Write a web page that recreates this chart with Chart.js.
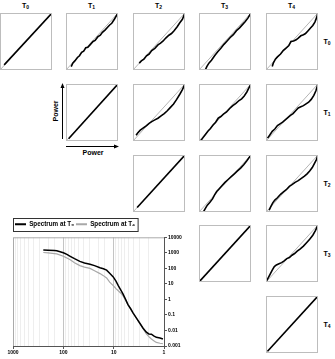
<!DOCTYPE html>
<html>
<head>
<meta charset="utf-8">
<script src="https://cdn.jsdelivr.net/npm/chart.js"></script>
<style>
  body { margin: 0; background: #fff; }
  #page { position: relative; width: 335px; height: 359px; overflow: hidden; font-family: "Liberation Sans", Arial, sans-serif; }
  .pnl { position: absolute; }
  .lbl { position: absolute; font-weight: bold; font-size: 7px; color: #000; transform: translate(-50%, -50%); white-space: nowrap; }
  .lbl sub { font-size: 5px; vertical-align: -1px; }
</style>
</head>
<body>
<div id="page">
  <svg width="335" height="359" style="position:absolute;left:0;top:0">
    <line x1="62.5" y1="139" x2="62.5" y2="86" stroke="#000" stroke-width="1"/>
    <polygon points="62.5,83 60.5,88 64.5,88" fill="#000"/>
    <line x1="66" y1="146.5" x2="116" y2="146.5" stroke="#000" stroke-width="1"/>
    <polygon points="119,146.5 114,144.5 114,148.5" fill="#000"/>
  </svg>
  <div class="lbl" style="left:55px;top:111px;transform:translate(-50%,-50%) rotate(-90deg)">Power</div>
  <div class="lbl" style="left:93px;top:152px">Power</div>
  <canvas id="spec" width="190" height="146" style="position:absolute;left:0;top:213px"></canvas>
</div>
<script>
// grid labels
const times = ['0', '1', '2', '3', '4'];
const colLeft = [0, 66, 133, 199, 266];
const rowTop = [13, 84, 155, 225, 296];

// Q-Q curves, [x, y] in fraction of panel
const t0t0 = [[0.08, 0.09], [1, 1]];
const t0t1 = [[0.10, 0.06], [0.13, 0.12], [0.17, 0.16], [0.22, 0.22], [0.26, 0.25], [0.30, 0.31], [0.34, 0.33], [0.38, 0.39], [0.42, 0.40], [0.47, 0.45], [0.52, 0.50], [0.56, 0.52], [0.61, 0.58], [0.66, 0.61], [0.70, 0.66], [0.75, 0.70], [0.80, 0.75], [0.84, 0.79], [0.88, 0.82], [0.93, 0.89], [1, 1]];
const t0t2 = [[0.12, 0.12], [0.16, 0.16], [0.21, 0.19], [0.26, 0.25], [0.31, 0.28], [0.36, 0.34], [0.42, 0.38], [0.48, 0.44], [0.53, 0.47], [0.58, 0.51], [0.63, 0.56], [0.69, 0.61], [0.74, 0.64], [0.79, 0.69], [0.85, 0.76], [0.90, 0.83], [0.95, 0.89], [1, 1]];
const t0t3 = [[0.12, 0.0], [0.15, 0.06], [0.19, 0.12], [0.24, 0.17], [0.30, 0.25], [0.36, 0.32], [0.42, 0.38], [0.48, 0.45], [0.54, 0.51], [0.60, 0.57], [0.66, 0.62], [0.72, 0.69], [0.78, 0.74], [0.84, 0.80], [0.89, 0.85], [0.94, 0.91], [1, 1]];
const t0t4 = [[0.12, 0.06], [0.14, 0.12], [0.18, 0.19], [0.22, 0.23], [0.28, 0.28], [0.33, 0.34], [0.38, 0.38], [0.44, 0.43], [0.48, 0.50], [0.53, 0.51], [0.58, 0.53], [0.62, 0.56], [0.67, 0.60], [0.72, 0.62], [0.76, 0.64], [0.81, 0.69], [0.86, 0.74], [0.90, 0.78], [0.94, 0.84], [0.97, 0.91], [1, 1]];
const t1t1 = [[0.05, 0.04], [1, 1]];
const t1t2 = [[0.06, 0.10], [0.09, 0.14], [0.14, 0.19], [0.20, 0.23], [0.26, 0.27], [0.31, 0.31], [0.36, 0.34], [0.42, 0.37], [0.48, 0.40], [0.54, 0.44], [0.60, 0.48], [0.66, 0.53], [0.72, 0.59], [0.78, 0.65], [0.84, 0.73], [0.90, 0.82], [0.95, 0.90], [1, 1]];
const t1t3 = [[0.03, 0.0], [0.07, 0.05], [0.12, 0.11], [0.17, 0.17], [0.22, 0.22], [0.27, 0.28], [0.32, 0.33], [0.37, 0.40], [0.42, 0.43], [0.47, 0.47], [0.53, 0.51], [0.59, 0.57], [0.65, 0.62], [0.71, 0.66], [0.77, 0.71], [0.82, 0.74], [0.87, 0.79], [0.92, 0.86], [0.96, 0.93], [1, 1]];
const t1t4 = [[0.03, 0.05], [0.07, 0.10], [0.12, 0.17], [0.17, 0.21], [0.22, 0.27], [0.27, 0.30], [0.32, 0.33], [0.37, 0.37], [0.42, 0.41], [0.47, 0.45], [0.52, 0.48], [0.57, 0.53], [0.62, 0.58], [0.67, 0.60], [0.72, 0.62], [0.77, 0.65], [0.82, 0.68], [0.87, 0.73], [0.92, 0.80], [0.96, 0.88], [1, 1]];
const t2t2 = [[0.08, 0.08], [1, 1]];
const t2t3 = [[0.085, 0.0], [0.12, 0.06], [0.16, 0.12], [0.21, 0.17], [0.26, 0.23], [0.30, 0.30], [0.34, 0.36], [0.38, 0.40], [0.44, 0.46], [0.50, 0.52], [0.56, 0.57], [0.62, 0.62], [0.68, 0.67], [0.74, 0.72], [0.80, 0.77], [0.86, 0.83], [0.92, 0.90], [1, 1]];
const t2t4 = [[0.06, 0.03], [0.09, 0.09], [0.13, 0.16], [0.17, 0.21], [0.22, 0.25], [0.28, 0.31], [0.33, 0.35], [0.39, 0.39], [0.45, 0.45], [0.50, 0.48], [0.56, 0.52], [0.62, 0.55], [0.68, 0.59], [0.74, 0.63], [0.79, 0.67], [0.84, 0.72], [0.89, 0.78], [0.93, 0.85], [0.97, 0.92], [1, 1]];
const t3t3 = [[0.01, 0.01], [1, 1]];
const t3t4 = [[0.01, 0.02], [0.04, 0.07], [0.08, 0.14], [0.12, 0.21], [0.16, 0.27], [0.20, 0.30], [0.25, 0.32], [0.30, 0.34], [0.35, 0.37], [0.40, 0.41], [0.45, 0.43], [0.50, 0.47], [0.55, 0.50], [0.60, 0.54], [0.66, 0.58], [0.72, 0.63], [0.78, 0.69], [0.84, 0.75], [0.90, 0.82], [0.95, 0.90], [1, 1]];
const t4t4 = [[0.03, 0.03], [1, 1]];
const diagonal = [[0, 0], [1, 1]];

const panels = [
  [0, 0, t0t0], [0, 1, t0t1], [0, 2, t0t2], [0, 3, t0t3], [0, 4, t0t4],
  [1, 1, t1t1], [1, 2, t1t2], [1, 3, t1t3], [1, 4, t1t4],
  [2, 2, t2t2], [2, 3, t2t3], [2, 4, t2t4],
  [3, 3, t3t3], [3, 4, t3t4],
  [4, 4, t4t4]
];

// spectrum
const seriesNames = ['Spectrum at T₀', 'Spectrum at T₄'];
const wavelength = [250, 200, 150, 135, 100, 85, 73, 60, 47, 38, 29.5, 24, 18.7, 16, 13.8, 12, 10.2, 9, 8.1, 7.2, 6.5, 5.8, 5.2, 4.6, 4.1, 3.5, 3.0, 2.6, 2.24, 2.0, 1.78, 1.6, 1.42, 1.2, 1.05];
const powerT0 = [1500, 1450, 1400, 1350, 1000, 800, 600, 420, 280, 220, 185, 150, 110, 95, 77, 48, 28, 15, 7.7, 4, 2.2, 1.0, 0.46, 0.25, 0.13, 0.06, 0.028, 0.014, 0.0078, 0.006, 0.0058, 0.0045, 0.0036, 0.0033, 0.0028];
const powerT4 = [1050, 1000, 900, 860, 600, 460, 360, 230, 150, 120, 100, 70, 46, 34, 24, 13, 7.7, 5, 3.6, 2.5, 1.67, 0.9, 0.46, 0.25, 0.13, 0.06, 0.028, 0.013, 0.0061, 0.004, 0.0028, 0.0022, 0.0017, 0.0015, 0.0014];
const yTicks = [0.001, 0.01, 0.1, 1, 10, 100, 1000, 10000];
const xTicks = [1, 10, 100, 1000];

const page = document.getElementById('page');
const toXY = arr => arr.map(p => ({ x: p[0], y: p[1] }));

times.forEach((t, i) => {
  const c = document.createElement('div');
  c.className = 'lbl';
  c.innerHTML = 'T<sub>' + t + '</sub>';
  c.style.left = (colLeft[i] + 25.5) + 'px';
  c.style.top = '6px';
  page.appendChild(c);
  const r = document.createElement('div');
  r.className = 'lbl';
  r.innerHTML = 'T<sub>' + t + '</sub>';
  r.style.left = '327px';
  r.style.top = (rowTop[i] + 29) + 'px';
  page.appendChild(r);
});

const panelFrame = {
  id: 'panelFrame',
  afterDraw(chart) {
    const { ctx, width, height } = chart;
    ctx.save();
    ctx.strokeStyle = '#bdbdbd';
    ctx.lineWidth = 1;
    ctx.strokeRect(0.5, 0.5, width - 1, height - 1);
    ctx.restore();
  }
};

function createPanel(row, col, points) {
  const cv = document.createElement('canvas');
  cv.width = 52;
  cv.height = 57;
  cv.className = 'pnl';
  cv.style.left = colLeft[col] + 'px';
  cv.style.top = rowTop[row] + 'px';
  page.appendChild(cv);
  new Chart(cv, {
    type: 'scatter',
    data: {
      datasets: [
        { data: toXY(points), showLine: true, borderColor: '#000', borderWidth: 1.6, pointRadius: 0 },
        { data: toXY(diagonal), showLine: true, borderColor: '#b5b5b5', borderWidth: 1, pointRadius: 0 }
      ]
    },
    options: {
      responsive: false,
      animation: false,
      layout: { padding: 0 },
      plugins: { legend: { display: false }, tooltip: { enabled: false } },
      scales: {
        x: { type: 'linear', display: false, min: 0, max: 1 },
        y: { type: 'linear', display: false, min: 0, max: 1 }
      }
    },
    plugins: [panelFrame]
  });
}

panels.forEach(p => createPanel(p[0], p[1], p[2]));

const isDecade = v => Math.abs(Math.log10(v) - Math.round(Math.log10(v))) < 1e-9;

const specFrame = {
  id: 'specFrame',
  afterDraw(chart) {
    const { ctx, chartArea } = chart;
    ctx.save();
    ctx.strokeStyle = '#aaa';
    ctx.lineWidth = 1;
    ctx.beginPath();
    ctx.moveTo(chartArea.left + 0.5, chartArea.bottom);
    ctx.lineTo(chartArea.left + 0.5, chartArea.top + 0.5);
    ctx.lineTo(chartArea.right, chartArea.top + 0.5);
    ctx.stroke();
    const boxes = chart.legend.legendHitBoxes;
    if (boxes.length) {
      const last = boxes[boxes.length - 1];
      const x0 = chart.legend.left + 0.5;
      const x1 = last.left + last.width + 3;
      const y0 = Math.round(boxes[0].top - 3.5);
      ctx.strokeStyle = '#333';
      ctx.strokeRect(x0, y0 + 0.5, x1 - x0, 13);
    }
    ctx.restore();
  }
};

new Chart(document.getElementById('spec'), {
  type: 'scatter',
  data: {
    datasets: [
      {
        label: seriesNames[0],
        data: wavelength.map((w, i) => ({ x: w, y: powerT0[i] })),
        showLine: true, borderColor: '#000', backgroundColor: '#000', borderWidth: 1.5, pointRadius: 0
      },
      {
        label: seriesNames[1],
        data: wavelength.map((w, i) => ({ x: w, y: powerT4[i] })),
        showLine: true, borderColor: '#a8a8a8', backgroundColor: '#a8a8a8', borderWidth: 1.2, pointRadius: 0
      }
    ]
  },
  options: {
    responsive: false,
    animation: false,
    layout: { padding: { left: 13, top: 6, right: 0, bottom: 0 } },
    plugins: {
      tooltip: { enabled: false },
      legend: {
        position: 'top',
        align: 'start',
        labels: {
          boxWidth: 11,
          boxHeight: 2,
          padding: 2,
          color: '#000',
          font: { family: 'Liberation Sans', size: 6.3, weight: 'bold' },
          generateLabels: chart => Chart.defaults.plugins.legend.labels.generateLabels(chart)
            .map(l => Object.assign(l, { lineWidth: 0 }))
        }
      }
    },
    scales: {
      x: {
        type: 'logarithmic',
        min: 1,
        max: 1000,
        reverse: true,
        afterFit: s => { s.height = 13; },
        border: { color: '#555' },
        grid: {
          color: c => isDecade(c.tick.value) ? '#c4c4c4' : '#eeeeee',
          tickColor: c => isDecade(c.tick.value) ? '#555' : 'rgba(0,0,0,0)',
          tickLength: 3
        },
        ticks: {
          autoSkip: false,
          maxRotation: 0,
          padding: 1,
          color: '#000',
          font: { family: 'Liberation Sans', size: 5, weight: 'bold' },
          callback: v => xTicks.includes(v) ? String(v) : ''
        }
      },
      y: {
        type: 'logarithmic',
        position: 'right',
        min: 0.001,
        max: 10000,
        afterFit: s => { s.width = 26; },
        afterBuildTicks: s => { s.ticks = yTicks.map(v => ({ value: v })); },
        border: { color: '#555' },
        grid: { drawOnChartArea: false, color: '#555', tickLength: 3 },
        ticks: {
          padding: 1,
          color: '#000',
          font: { family: 'Liberation Sans', size: 5, weight: 'bold' },
          callback: v => String(v)
        }
      }
    }
  },
  plugins: [specFrame]
});
</script>
</body>
</html>
